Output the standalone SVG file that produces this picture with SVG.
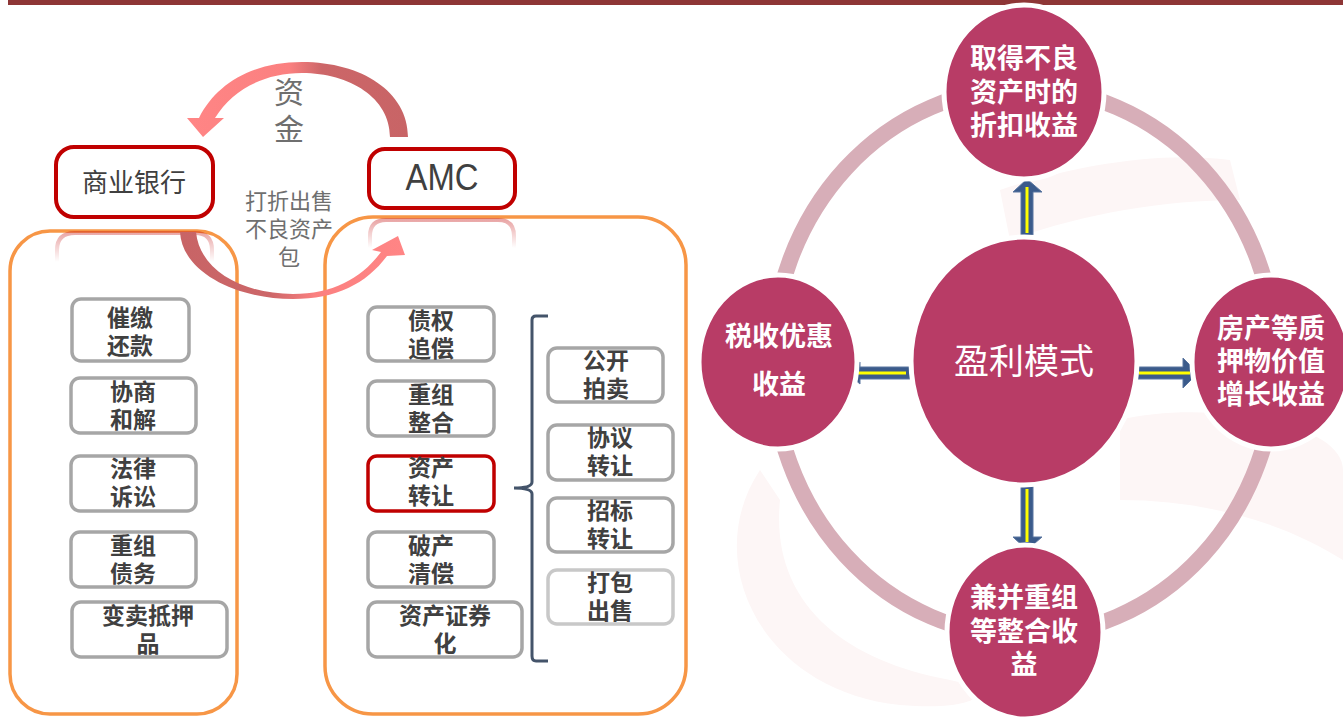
<svg xmlns="http://www.w3.org/2000/svg" width="1343" height="717" viewBox="0 0 1343 717">
<defs>
<style>
.cjk{font-family:"Liberation Sans","Noto Sans CJK SC",sans-serif;text-anchor:middle;dominant-baseline:central}
.gb{fill:#fff;stroke:#A6A6A6;stroke-width:3.5}
.gt{font-size:23px;fill:#404040;font-weight:700}
.rb{fill:#fff;stroke:#C00000;stroke-width:4}
.oc{fill:none;stroke:#F79646;stroke-width:3.5}
.nd{fill:#B83C66;stroke:#fff;stroke-width:5}
.nt{font-size:27px;fill:#fff;font-weight:700}
.ar{fill:#3B5B8B;stroke:#5A76A0;stroke-width:1}
.yl{stroke:#FFFF00;stroke-width:3;fill:none}
.gray{fill:#6F6F6F}
</style>
<linearGradient id="gTop" x1="190" y1="0" x2="410" y2="0" gradientUnits="userSpaceOnUse">
<stop offset="0" stop-color="#FF8585"/><stop offset="0.45" stop-color="#FB8080"/><stop offset="0.6" stop-color="#CC6668"/><stop offset="1" stop-color="#C86466"/>
</linearGradient>
<linearGradient id="gBot" x1="180" y1="0" x2="405" y2="0" gradientUnits="userSpaceOnUse">
<stop offset="0" stop-color="#C86466"/><stop offset="0.4" stop-color="#CC6668"/><stop offset="0.6" stop-color="#FB8080"/><stop offset="1" stop-color="#FF8585"/>
</linearGradient>
<linearGradient id="gRef1" x1="0" y1="232" x2="0" y2="262" gradientUnits="userSpaceOnUse">
<stop offset="0" stop-color="#C00000" stop-opacity="0.35"/><stop offset="1" stop-color="#C00000" stop-opacity="0"/>
</linearGradient>
<linearGradient id="gRef2" x1="0" y1="220" x2="0" y2="248" gradientUnits="userSpaceOnUse">
<stop offset="0" stop-color="#C00000" stop-opacity="0.35"/><stop offset="1" stop-color="#C00000" stop-opacity="0"/>
</linearGradient>
</defs>

<rect x="0" y="0" width="1343" height="717" fill="#fff"/>
<rect x="8" y="0" width="1335" height="5" fill="#8E3636"/>

<!-- faint background of right panel -->
<g id="bg-right" fill="#FDF6F6">
<path d="M760,470 C700,560 760,690 900,705 C980,712 1000,690 950,680 C840,660 770,600 780,500 Z"/>
<path d="M1120,420 C1200,400 1343,420 1343,470 L1343,560 C1280,520 1200,500 1120,500 Z"/>
<path d="M1000,190 C1060,170 1150,150 1230,160 L1240,200 C1160,200 1080,215 1010,240 Z"/>
</g>

<!-- containers -->
<g id="container-bank"><rect class="oc" x="10" y="231" width="227" height="483" rx="40"/></g>
<g id="container-amc"><rect class="oc" x="325" y="217" width="361" height="497" rx="48"/></g>

<!-- reflections -->
<path d="M57,262 L57,250 Q57,233 75,233 L195,233 Q212,233 212,250 L212,262" fill="none" stroke="url(#gRef1)" stroke-width="4"/>
<path d="M370,248 L370,236 Q370,220 386,220 L498,220 Q514,220 514,236 L514,248" fill="none" stroke="url(#gRef2)" stroke-width="4"/>

<g id="node-bank">
<rect class="rb" x="56" y="147" width="157" height="70" rx="18"/>
<text class="cjk" x="134" y="183" font-size="26" fill="#404040">商业银行</text>
</g>
<g id="node-amc">
<rect class="rb" x="369" y="149" width="146" height="59" rx="16"/>
<text x="442" y="177" font-family="Liberation Sans, Arial, sans-serif" font-size="36" fill="#404040" text-anchor="middle" dominant-baseline="central" textLength="73" lengthAdjust="spacingAndGlyphs">AMC</text>
</g>

<!-- connectors -->
<g id="connectors">
<path d="M408,137 C408,92 362,62 302,62 C252,62 216,84 199,118 L187,118 L203,137 L224,118 L215,118 C232,90 264,73 302,73 C350,73 390,98 390,137 Z" fill="url(#gTop)"/>
<path d="M180,232 C182,272 236,299 293,299 C336,299 366,284 387,256 L405,255 L398,236 L372,250 L381,252 C362,278 333,294 293,294 C245,294 200,272 196,232 Z" fill="url(#gBot)"/>
<path d="M548,316 L536,316 Q532,316 532,320 L532,482 Q532,488 514,488 Q532,488 532,494 L532,656 Q532,661 536,661 L548,661" fill="none" stroke="#44546A" stroke-width="3"/>
<!-- blue arrows -->
<path class="ar" d="M1021,238 L1021,192 L1013,192 L1027,179 L1042,192 L1033,192 L1033,238 Z"/>
<line class="yl" x1="1027" y1="187" x2="1027" y2="233"/>
<path class="ar" d="M911,367 L860,367 L860,362 L847,373 L860,384 L860,379 L911,379 Z"/>
<line class="yl" x1="855" y1="373" x2="906" y2="373"/>
<path class="ar" d="M1133,367 L1183,367 L1183,358 L1198,373 L1183,388 L1183,379 L1133,379 Z"/>
<line class="yl" x1="1139" y1="373" x2="1190" y2="373"/>
<path class="ar" d="M1021,485 L1021,537 L1013,537 L1027,550 L1042,537 L1033,537 L1033,485 Z"/>
<line class="yl" x1="1027" y1="489" x2="1027" y2="542"/>
</g>

<text id="label-fund" class="cjk gray" font-size="30" x="289" y="92">资<tspan x="289" dy="37">金</tspan></text>
<text id="label-sale" class="cjk gray" font-size="22" x="289" y="201">打折出售<tspan x="289" dy="28">不良资产</tspan><tspan x="289" dy="28">包</tspan></text>

<!-- bank methods -->
<g id="b1"><rect class="gb" x="72" y="299" width="117" height="62" rx="9"/><text class="cjk gt" x="130" y="318">催缴<tspan x="130" dy="28">还款</tspan></text></g>
<g id="b2"><rect class="gb" x="71" y="378" width="125" height="55" rx="9"/><text class="cjk gt" x="133" y="392">协商<tspan x="133" dy="28">和解</tspan></text></g>
<g id="b3"><rect class="gb" x="71" y="456" width="125" height="55" rx="9"/><text class="cjk gt" x="133" y="469">法律<tspan x="133" dy="28">诉讼</tspan></text></g>
<g id="b4"><rect class="gb" x="71" y="532" width="125" height="55" rx="9"/><text class="cjk gt" x="133" y="546">重组<tspan x="133" dy="28">债务</tspan></text></g>
<g id="b5"><rect class="gb" x="72" y="602" width="155" height="55" rx="9"/><text class="cjk gt" x="148" y="616">变卖抵押<tspan x="148" dy="28">品</tspan></text></g>

<!-- AMC methods -->
<g id="a1"><rect class="gb" x="368" y="307" width="126" height="54" rx="9"/><text class="cjk gt" x="431" y="321">债权<tspan x="431" dy="28">追偿</tspan></text></g>
<g id="a2"><rect class="gb" x="368" y="381" width="126" height="55" rx="9"/><text class="cjk gt" x="431" y="395">重组<tspan x="431" dy="28">整合</tspan></text></g>
<g id="a3"><rect x="368" y="456" width="126" height="55" rx="9" fill="#fff" stroke="#C00000" stroke-width="3.5"/><text class="cjk gt" x="431" y="468">资产<tspan x="431" dy="28">转让</tspan></text></g>
<g id="a4"><rect class="gb" x="368" y="532" width="126" height="55" rx="9"/><text class="cjk gt" x="431" y="546">破产<tspan x="431" dy="28">清偿</tspan></text></g>
<g id="a5"><rect class="gb" x="368" y="602" width="154" height="55" rx="9"/><text class="cjk gt" x="445" y="616">资产证券<tspan x="445" dy="28">化</tspan></text></g>

<!-- transfer methods -->
<g id="t1"><rect class="gb" x="548" y="348" width="115" height="54" rx="9"/><text class="cjk gt" x="606" y="361">公开<tspan x="606" dy="28">拍卖</tspan></text></g>
<g id="t2"><rect class="gb" x="548" y="425" width="125" height="55" rx="9"/><text class="cjk gt" x="610" y="438">协议<tspan x="610" dy="28">转让</tspan></text></g>
<g id="t3"><rect class="gb" x="548" y="498" width="125" height="54" rx="9"/><text class="cjk gt" x="610" y="511">招标<tspan x="610" dy="28">转让</tspan></text></g>
<g id="t4"><rect x="548" y="570" width="125" height="54" rx="9" fill="#fff" stroke="#C8C8C8" stroke-width="3.5"/><text class="cjk gt" x="610" y="583">打包<tspan x="610" dy="28">出售</tspan></text></g>

<!-- right panel -->
<ellipse cx="1024" cy="362" rx="252" ry="274" fill="none" stroke="#D7AEB8" stroke-width="16"/>

<g id="n-top"><ellipse class="nd" cx="1024" cy="92" rx="80" ry="87"/>
<text class="cjk nt" x="1024" y="59">取得不良<tspan x="1024" dy="34">资产时的</tspan><tspan x="1024" dy="33">折扣收益</tspan></text></g>
<g id="n-left"><ellipse class="nd" cx="778" cy="362" rx="79" ry="87"/>
<text class="cjk nt" x="779" y="337">税收优惠<tspan x="779" dy="48">收益</tspan></text></g>
<g id="n-right"><ellipse class="nd" cx="1271" cy="362" rx="79" ry="87"/>
<text class="cjk nt" x="1271" y="329">房产等质<tspan x="1271" dy="33">押物价值</tspan><tspan x="1271" dy="33">增长收益</tspan></text></g>
<g id="n-bottom"><ellipse class="nd" cx="1025" cy="632" rx="78" ry="87"/>
<text class="cjk nt" x="1024" y="598">兼并重组<tspan x="1024" dy="34">等整合收</tspan><tspan x="1024" dy="33">益</tspan></text></g>
<g id="n-center"><ellipse class="nd" cx="1024" cy="361" rx="113" ry="124"/>
<text class="cjk" x="1024" y="361" font-size="35" fill="#fff">盈利模式</text></g>
</svg>
